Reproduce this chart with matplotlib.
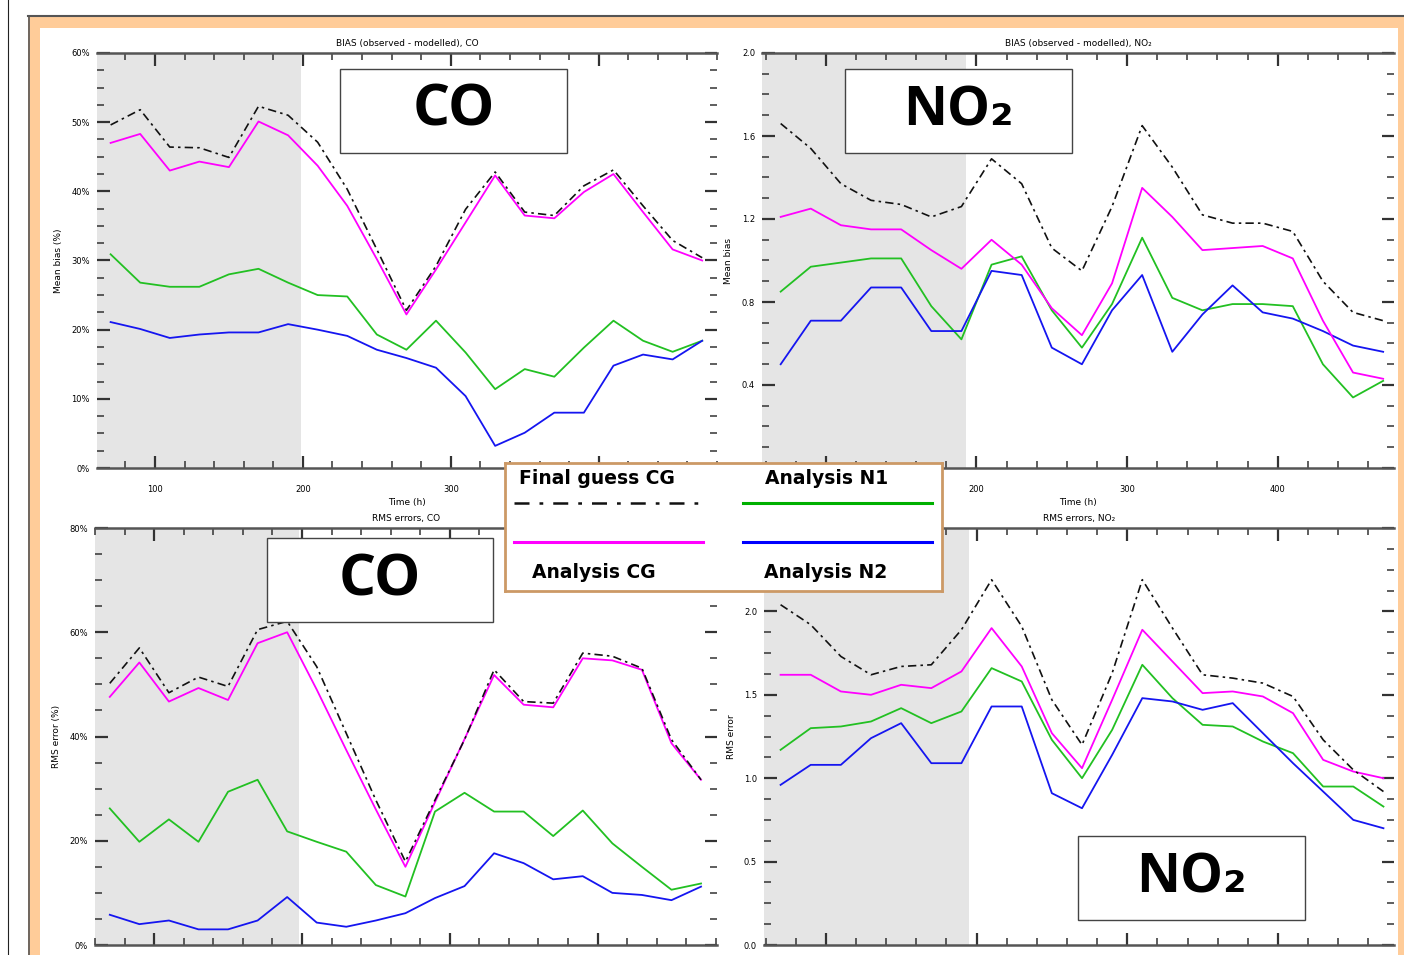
import matplotlib
matplotlib.use("Agg")
import matplotlib.pyplot as plt
from matplotlib.patches import Rectangle
from matplotlib.lines import Line2D
from matplotlib.ticker import MultipleLocator, FixedLocator

# ---------------- data ----------------
time_h = [70, 90, 110, 130, 150, 170, 190, 210, 230, 250, 270,
          290, 310, 330, 350, 370, 390, 410, 430, 450, 470]
x_ticks = [100, 200, 300, 400]
x_tick_labels = ["100", "200", "300", "400"]

series_names = ["Final guess CG", "Analysis CG", "Analysis N1", "Analysis N2"]

# BIAS CO (%)
co_bias_fg = [49.6, 51.8, 46.4, 46.3, 44.9, 52.3, 51.0, 47.1, 40.3, 31.6, 22.8,
              29.2, 37.4, 42.8, 37.0, 36.5, 40.8, 43.1, 37.9, 32.9, 30.4]
co_bias_cg = [47.0, 48.3, 43.0, 44.3, 43.5, 50.1, 48.1, 43.7, 37.9, 30.2, 22.2,
              28.7, 35.5, 42.3, 36.5, 36.1, 39.9, 42.5, 37.0, 31.6, 30.0]
co_bias_n1 = [30.9, 26.8, 26.2, 26.2, 28.0, 28.8, 26.8, 25.0, 24.8, 19.3, 17.1,
              21.3, 16.7, 11.4, 14.3, 13.2, 17.4, 21.3, 18.4, 16.8, 18.4]
co_bias_n2 = [21.1, 20.1, 18.8, 19.3, 19.6, 19.6, 20.8, 20.0, 19.1, 17.1, 15.9,
              14.5, 10.4, 3.2, 5.1, 8.0, 8.0, 14.8, 16.4, 15.7, 18.4]

# BIAS NO2
no2_bias_fg = [1.66, 1.54, 1.37, 1.29, 1.27, 1.21, 1.26, 1.49, 1.37, 1.06, 0.95,
               1.26, 1.65, 1.45, 1.22, 1.18, 1.18, 1.14, 0.90, 0.75, 0.71]
no2_bias_cg = [1.21, 1.25, 1.17, 1.15, 1.15, 1.05, 0.96, 1.10, 0.98, 0.77, 0.64,
               0.89, 1.35, 1.21, 1.05, 1.06, 1.07, 1.01, 0.71, 0.46, 0.43]
no2_bias_n1 = [0.85, 0.97, 0.99, 1.01, 1.01, 0.78, 0.62, 0.98, 1.02, 0.76, 0.58,
               0.79, 1.11, 0.82, 0.76, 0.79, 0.79, 0.78, 0.50, 0.34, 0.42]
no2_bias_n2 = [0.50, 0.71, 0.71, 0.87, 0.87, 0.66, 0.66, 0.95, 0.93, 0.58, 0.50,
               0.76, 0.93, 0.56, 0.74, 0.88, 0.75, 0.72, 0.66, 0.59, 0.56]

# RMS CO (%)
co_rms_fg = [50.2, 57.0, 48.4, 51.4, 49.6, 60.5, 62.1, 53.4, 40.6, 27.8, 16.0,
             27.8, 39.4, 52.8, 46.7, 46.4, 56.0, 55.4, 53.1, 39.4, 31.7]
co_rms_cg = [47.6, 54.2, 46.7, 49.3, 47.0, 57.9, 60.0, 49.0, 37.4, 26.0, 15.0,
             27.4, 39.5, 51.8, 46.1, 45.6, 55.0, 54.6, 52.8, 38.7, 31.7]
co_rms_n1 = [26.2, 19.8, 24.1, 19.8, 29.4, 31.7, 21.8, 19.8, 17.9, 11.5, 9.3,
             25.6, 29.2, 25.6, 25.6, 20.9, 25.8, 19.5, 15.0, 10.6, 11.8]
co_rms_n2 = [5.8, 4.0, 4.7, 3.0, 3.0, 4.7, 9.2, 4.3, 3.5, 4.7, 6.1,
             9.0, 11.3, 17.6, 15.7, 12.6, 13.2, 10.0, 9.6, 8.6, 11.2]

# RMS NO2
no2_rms_fg = [2.04, 1.92, 1.73, 1.62, 1.67, 1.68, 1.89, 2.19, 1.91, 1.47, 1.20,
              1.63, 2.19, 1.90, 1.62, 1.60, 1.57, 1.49, 1.23, 1.05, 0.92]
no2_rms_cg = [1.62, 1.62, 1.52, 1.50, 1.56, 1.54, 1.64, 1.90, 1.67, 1.27, 1.06,
              1.47, 1.89, 1.70, 1.51, 1.52, 1.49, 1.39, 1.11, 1.04, 1.00]
no2_rms_n1 = [1.17, 1.30, 1.31, 1.34, 1.42, 1.33, 1.40, 1.66, 1.58, 1.23, 1.00,
              1.29, 1.68, 1.48, 1.32, 1.31, 1.22, 1.15, 0.95, 0.95, 0.83]
no2_rms_n2 = [0.96, 1.08, 1.08, 1.24, 1.33, 1.09, 1.09, 1.43, 1.43, 0.91, 0.82,
              1.14, 1.48, 1.46, 1.41, 1.45, 1.27, 1.09, 0.92, 0.75, 0.70]

tl_yticks = [0, 10, 20, 30, 40, 50, 60]
tl_ylabels = ["0%", "10%", "20%", "30%", "40%", "50%", "60%"]
tr_yticks = [0.0, 0.4, 0.8, 1.2, 1.6, 2.0]
tr_ylabels = ["0.0", "0.4", "0.8", "1.2", "1.6", "2.0"]
bl_yticks = [0, 20, 40, 60, 80]
bl_ylabels = ["0%", "20%", "40%", "60%", "80%"]
br_yticks = [0.0, 0.5, 1.0, 1.5, 2.0, 2.5]
br_ylabels = ["0.0", "0.5", "1.0", "1.5", "2.0", "2.5"]

titles = ["BIAS (observed - modelled), CO", "BIAS (observed - modelled), NO\u2082",
          "RMS errors, CO", "RMS errors, NO\u2082"]
ylabels = ["Mean bias (%)", "Mean bias", "RMS error (%)", "RMS error"]
xlabel = "Time (h)"

# ---------------- figure ----------------
W, H = 1404, 955
fig = plt.figure(figsize=(W / 100, H / 100), dpi=100)
fig.patch.set_facecolor("white")


def fx(x):
    return x / W


def fy(y):
    return 1 - y / H


# slide frame (behind everything)
fig.patches.append(Rectangle((fx(28), 0), 1 - fx(28), fy(16), transform=fig.transFigure,
                             facecolor="#FFCC99", edgecolor="none", zorder=-3))
fig.patches.append(Rectangle((fx(40), 0), fx(1398) - fx(40), fy(28), transform=fig.transFigure,
                             facecolor="white", edgecolor="none", zorder=-2))
fig.lines.append(Line2D([fx(28), 1], [fy(16.5), fy(16.5)], transform=fig.transFigure,
                        color="#555555", lw=1.5, zorder=-1))
fig.lines.append(Line2D([fx(28.5), fx(28.5)], [0, fy(16)], transform=fig.transFigure,
                        color="#555555", lw=1.2, zorder=-1))
fig.lines.append(Line2D([fx(8), fx(8)], [0, 1], transform=fig.transFigure,
                        color="#222222", lw=0.8, zorder=-1))

COL_FG = "#111111"
COL_CG = "#FF00FF"
COL_N1 = "#22C022"
COL_N2 = "#1515F0"

panels = [
    dict(box=(97, 53, 717, 468), xlim=(60.8, 480), shade=198.6, ylim=(0, 60),
         data=(co_bias_fg, co_bias_cg, co_bias_n1, co_bias_n2),
         yt=tl_yticks, yl=tl_ylabels, ymin=2.5, title=titles[0], ylab=ylabels[0], top=True),
    dict(box=(762, 53, 1394, 468), xlim=(57.6, 477.2), shade=193, ylim=(0, 2.0),
         data=(no2_bias_fg, no2_bias_cg, no2_bias_n1, no2_bias_n2),
         yt=tr_yticks, yl=tr_ylabels, ymin=0.1, title=titles[1], ylab=ylabels[1], top=True),
    dict(box=(95, 528, 717, 945), xlim=(60, 480.8), shade=198, ylim=(0, 80),
         data=(co_rms_fg, co_rms_cg, co_rms_n1, co_rms_n2),
         yt=bl_yticks, yl=bl_ylabels, ymin=5, title=titles[2], ylab=ylabels[2], top=False),
    dict(box=(764, 528, 1394, 945), xlim=(59, 477), shade=195, ylim=(0, 2.5),
         data=(no2_rms_fg, no2_rms_cg, no2_rms_n1, no2_rms_n2),
         yt=br_yticks, yl=br_ylabels, ymin=0.125, title=titles[3], ylab=ylabels[3], top=False),
]

for p in panels:
    l, t, r, b = p["box"]
    ax = fig.add_axes([fx(l), fy(b), (r - l) / W, (b - t) / H])
    ax.set_facecolor("white")
    ax.set_xlim(*p["xlim"])
    ax.set_ylim(*p["ylim"])
    ax.axvspan(p["xlim"][0], p["shade"], color="#E5E5E5", lw=0, zorder=0)
    fg, cg, n1, n2 = p["data"]
    ax.plot(time_h, n1, color=COL_N1, lw=1.3, zorder=3)
    ax.plot(time_h, n2, color=COL_N2, lw=1.3, zorder=3)
    ax.plot(time_h, cg, color=COL_CG, lw=1.3, zorder=4)
    ax.plot(time_h, fg, color=COL_FG, lw=1.2, ls=(0, (5, 2.5, 1.5, 2.5)), zorder=5)
    for s in ("left", "right"):
        ax.spines[s].set_visible(False)
    for s in ("top", "bottom"):
        ax.spines[s].set_color("#555555")
        ax.spines[s].set_linewidth(1.8)
    ax.xaxis.set_major_locator(FixedLocator(x_ticks))
    ax.set_xticklabels(x_tick_labels)
    ax.xaxis.set_minor_locator(MultipleLocator(20))
    ax.yaxis.set_major_locator(FixedLocator(p["yt"]))
    ax.set_yticklabels(p["yl"])
    ax.yaxis.set_minor_locator(MultipleLocator(p["ymin"]))
    ax.tick_params(which="both", direction="in", top=True, right=True,
                   color="#333333", labelsize=6)
    ax.tick_params(which="major", length=9, width=1.6, pad=12)
    ax.tick_params(which="minor", length=5, width=1.1)
    ax.tick_params(axis="y", which="major", pad=5)
    ax.set_title(p["title"], fontsize=6.5, pad=5)
    ax.set_ylabel(p["ylab"], fontsize=6.5, labelpad=6)
    if p["top"]:
        ax.set_xlabel(xlabel, fontsize=6.5, labelpad=3)
    else:
        ax.tick_params(axis="x", labelbottom=False)

# ---------------- legend ----------------
lax = fig.add_axes([fx(505), fy(591), (942 - 505) / W, (591 - 463) / H], zorder=10)
lax.set_xlim(0, 437)
lax.set_ylim(128, 0)
lax.set_facecolor("white")
lax.set_xticks([])
lax.set_yticks([])
for s in lax.spines.values():
    s.set_color("#CC9966")
    s.set_linewidth(2)
lax.plot([9, 198], [40, 40], color=COL_FG, lw=1.8, ls=(0, (6, 4, 1.5, 4)))
lax.plot([9, 198], [79, 79], color=COL_CG, lw=2.2)
lax.plot([238, 427], [40, 40], color="#00B000", lw=2.2)
lax.plot([238, 427], [79, 79], color="#0000FF", lw=2.2)
lax.text(14, 15, series_names[0], fontsize=13.5, fontweight="bold", va="center", ha="left")
lax.text(27, 110, series_names[1], fontsize=13.5, fontweight="bold", va="center", ha="left")
lax.text(260, 15, series_names[2], fontsize=13.5, fontweight="bold", va="center", ha="left")
lax.text(259, 110, series_names[3], fontsize=13.5, fontweight="bold", va="center", ha="left")

# ---------------- big species labels ----------------
boxes = [((340, 69, 567, 153), "CO", 42), ((845, 69, 1072, 153), "NO\u2082", 39),
         ((267, 538, 493, 622), "CO", 42), ((1078, 836, 1305, 920), "NO\u2082", 39)]
for (l, t, r, b), txt, fs in boxes:
    fig.patches.append(Rectangle((fx(l), fy(b)), (r - l) / W, (b - t) / H,
                                 transform=fig.transFigure, facecolor="white",
                                 edgecolor="#444444", lw=1.0, zorder=20))
    fig.text(fx((l + r) / 2), fy((t + b) / 2), txt, ha="center", va="center",
             fontsize=fs, fontweight="bold", family=["Open Sans", "DejaVu Sans"], zorder=21)

fig.savefig("out.png", dpi=100)
